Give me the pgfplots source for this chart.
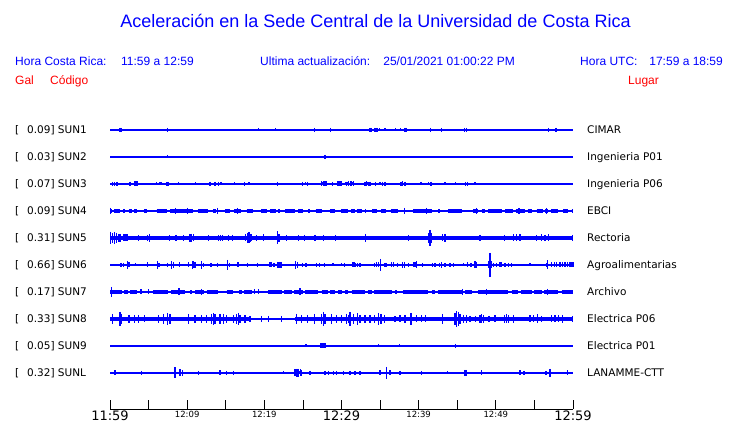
\documentclass[border=0pt]{standalone}
\usepackage{fontspec}
\setmainfont{DejaVu Sans}
\newfontfamily\lib{Liberation Sans}
\usepackage{pgfplots}
\usepackage{pgfplotstable}
\pgfplotsset{compat=1.18}
\definecolor{tb}{RGB}{0,0,255}
\definecolor{tr}{RGB}{255,0,0}

% spikes: t = minutes after 11:59, a = half amplitude (px)
\pgfplotstableread{
t a
1.30 2
1.39 2
1.48 2
7.43 2
19.22 1.5
21.47 1.5
26.47 2
28.60 2
33.69 2
33.91 2
34.25 2
34.47 2
34.69 2
34.95 1.5
35.64 1.5
36.94 1.5
37.59 1.5
38.14 2
38.25 2
38.36 2
41.56 2
42.98 2
45.91 2
46.22 2
56.80 2
57.80 2
}\sunA
\pgfplotstableread{
t a
7.43 1.5
27.86 2
}\sunB
\pgfplotstableread{
t a
0.30 2
0.56 2
0.91 2
2.59 2
3.24 2.5
3.41 2.5
3.59 2.5
6.05 1.5
6.39 1.5
6.61 1.5
7.39 2
7.56 2
8.85 1.5
11.10 1.5
12.96 2
13.61 2
14.03 2
14.39 1.5
16.11 1.5
17.41 2
18.01 1.5
21.73 2
24.92 2
25.36 1.5
25.62 2
27.43 2.5
27.65 2.5
27.86 2.5
28.08 2.5
28.86 2
29.46 2.5
29.68 2.5
29.94 2.5
30.67 2
30.88 2.5
31.23 2.5
31.53 2.5
33.05 2
33.26 2.5
33.47 2
33.69 2
34.43 2
34.99 1.5
35.29 2
35.64 2
37.71 2
37.88 2.5
38.23 2
40.30 1.5
41.25 1.5
41.60 2
43.41 1.5
44.80 1.5
46.09 2
46.35 2
47.30 1.5
}\sunC
\pgfplotstableread{
t a
0.10 3
8.50 3
10.10 3
13.90 3
16.50 3
38.14 3
41.00 3
47.50 3
53.00 3
56.60 3
}\sunD
\pgfplotstableread{
t a
0.05 6
0.30 5
0.55 6
0.80 5
1.05 4
1.30 4
1.75 3.5
1.95 3.5
2.15 3.5
2.30 3.5
3.67 3
4.88 3
5.10 4
7.69 3
8.55 3
9.50 3
10.28 4
10.50 4
10.80 3.5
12.74 3
14.04 3
14.34 3
14.56 3
15.33 3
15.85 3
17.58 3.5
17.84 5
18.01 5.5
18.14 4
18.36 3.5
19.01 3
19.92 3.5
21.73 6.5
21.90 4
22.90 3
24.41 3
25.18 3
26.57 3
27.65 3
29.24 3
33.13 4
38.66 3
41.34 5
41.47 8
41.60 5
43.07 3.5
43.41 4
47.95 3
51.10 3
52.27 3.5
52.70 3.5
53.13 3.5
55.30 3
55.94 3.5
56.37 3
56.80 3.5
59.95 3
}\sunE
\pgfplotstableread{
t a
1.43 2
1.73 2
2.29 4
2.46 2.5
3.33 1.5
4.88 2.5
6.18 4
6.35 2
7.43 2
8.00 4
8.21 3
8.99 2.5
10.15 2.5
10.67 4
10.84 3.5
11.02 3
11.88 4
12.09 2
13.09 2
13.91 2
15.21 5
15.46 2
16.50 2.5
16.63 2.5
17.80 2
19.09 2
20.73 2.5
20.95 2.5
21.25 2
21.69 3
21.90 3
22.12 3
22.25 3
24.06 4
24.28 3
24.92 2
25.28 2
25.49 2
26.74 2
27.12 2
27.77 2
28.90 1.5
30.02 1.5
30.37 2
31.40 2.5
31.62 2.5
31.75 2
32.10 2
32.40 2
34.25 2
34.56 2.5
34.77 2.5
35.03 6
35.64 2
35.86 2
36.50 2.5
36.71 2.5
37.28 2
37.88 3
38.14 3
38.66 2
39.31 2.5
39.53 2.5
39.74 3.5
40.47 2
41.77 2
42.12 2
42.68 2
42.98 3
43.41 2
44.06 2
44.49 2
45.78 1.5
46.35 2.5
46.78 2
47.30 3.5
47.52 3
49.11 3.5
49.24 12
49.37 3.5
49.67 2
50.11 2
50.54 2.5
50.76 2.5
51.19 2
51.61 2
52.06 2
54.43 1.5
56.59 2
56.72 4.5
57.24 2.5
57.58 2.5
57.89 2.5
58.32 2.5
58.61 2.5
58.96 2.5
59.31 2.5
59.61 2.5
59.83 2.5
60.00 2.5
}\sunF
\pgfplotstableread{
t a
0.22 5
4.02 2.5
4.97 2.5
8.94 3.5
11.88 3
18.70 2.5
19.22 2.5
24.62 3.5
45.66 3
48.81 3
56.72 3
}\sunG
\pgfplotstableread{
t a
0.30 5
1.30 7
1.51 5
2.46 4
3.15 4
3.67 4
4.45 3.5
6.26 4
6.91 5
7.47 6
7.78 5
10.15 5
11.02 4
11.88 4
12.53 4
13.18 5
13.39 6
13.61 5
14.26 5
14.69 5
15.12 4
15.98 4
16.42 5
16.63 6
16.85 4
17.50 4
18.14 3
19.65 3
20.52 3
22.25 3
24.19 5
24.84 4
25.62 4
26.47 5
27.43 5
27.65 7
27.86 5
28.73 5
29.38 4
30.02 4
30.67 5
31.10 7
30.88 4
31.53 5
32.10 6
32.40 4
33.05 4
33.69 4
34.25 4
34.77 6
35.12 5
35.55 4
36.93 3
37.58 3.5
38.23 4
39.01 6
39.74 3.5
40.39 3.5
40.91 3.5
43.07 5
44.71 6
44.93 8
45.14 7
45.36 5
45.78 4
46.22 4
46.65 3
47.39 3
47.95 4
48.17 4.5
48.38 4
49.11 3
49.89 3.5
51.10 4
51.40 4.5
51.61 4
52.27 4
54.43 3.5
54.86 3.5
55.42 4.5
55.94 3
57.24 3.5
57.67 3.5
58.10 3.5
58.61 4
59.90 3
}\sunH
\pgfplotstableread{
t a
25.40 1.5
27.34 2.5
27.47 2.5
27.60 2.5
27.73 2.5
27.86 2.5
34.77 1.5
37.54 1.5
44.80 2
}\sunI
\pgfplotstableread{
t a
0.65 2.5
0.75 2.5
4.10 2
8.42 5.5
9.07 3.5
9.42 3
11.45 2
14.26 2.5
15.12 2
15.98 2
22.46 1.5
23.97 3.5
24.14 4
24.30 4
24.47 4
24.64 3.5
24.84 3
25.92 2
27.86 2
28.29 2
28.94 2
29.37 2
30.23 2
31.10 2
31.75 2
32.40 2
34.99 2.5
35.86 6
36.28 2.5
37.58 2
40.39 2
43.71 1.5
45.91 3
46.07 3
46.22 3
48.17 2.5
53.13 2.5
53.65 2
56.50 2
57.02 4
59.26 2.5
}\sunL

\pgfplotsset{
  spk/.style={scatter, only marks, mark=|,
    point meta=\thisrow{a}, point meta min=0, point meta max=20,
    scatter/use mapped color={draw=tb, fill=tb},
    mark options={line width=1.1pt},
    visualization depends on={\thisrow{a} \as \amp},
    scatter/@pre marker code/.append style={/tikz/mark size=\amp pt}},
  base/.style={tb, line width=1.2pt, no marks},
}

\begin{document}
\begin{tikzpicture}
\useasboundingbox (0,0) rectangle (740pt,423pt);
\begin{axis}[
  at={(110pt,14pt)}, anchor=south west,
  scale only axis, width=463pt, height=306pt,
  xmin=0, xmax=60, ymin=-0.33333, ymax=11,
  clip=false,
  axis x line=bottom, axis y line=none,
  x axis line style={-, line width=0.8pt, black},
  xtick={0,5,...,60},
  xticklabels={{\fontsize{13}{13}\selectfont 11:59},{},{\fontsize{8.5}{9}\selectfont 12:09},{},{\fontsize{8.5}{9}\selectfont 12:19},{},{\fontsize{13}{13}\selectfont 12:29},{},{\fontsize{8.5}{9}\selectfont 12:39},{},{\fontsize{8.5}{9}\selectfont 12:49},{},{\fontsize{13}{13}\selectfont 12:59}},
  tick align=inside, major tick length=9pt,
  tick style={black, line width=0.8pt},
  xticklabel style={anchor=north, inner sep=0pt, yshift=-1.5pt},
  ytick=\empty,
  unbounded coords=jump,
]
% baselines
\addplot[base] coordinates {(0,10)(60,10)};
\addplot[base] coordinates {(0,9)(60,9)};
\addplot[base] coordinates {(0,8)(60,8)};
\addplot[base] coordinates {(0,7)(60,7)};
\addplot[base] coordinates {(0,6)(60,6)};
\addplot[base] coordinates {(0,5)(60,5)};
\addplot[base] coordinates {(0,4)(60,4)};
\addplot[base] coordinates {(0,3)(60,3)};
\addplot[base] coordinates {(0,2)(60,2)};
\addplot[base] coordinates {(0,1)(60,1)};
% bands
\addplot[tb, line width=3pt, no marks] coordinates {(1.30,10)(1.48,10) (nan,nan) (38.14,10)(38.36,10)};
\addplot[tb, line width=3pt, no marks] coordinates {(3.24,8)(3.59,8) (nan,nan) (27.43,8)(28.08,8) (nan,nan) (29.46,8)(29.94,8) (nan,nan) (30.45,8)(30.88,8) (nan,nan) (31.23,8)(31.60,8) (nan,nan) (33.05,8)(33.69,8) (nan,nan) (37.71,8)(37.88,8)};
\addplot[tb, line width=3.2pt, no marks] coordinates {
(0,7)(0.30,7) (nan,nan) (0.56,7)(1.30,7) (nan,nan) (1.73,7)(1.94,7) (nan,nan) (2.46,7)(2.81,7) (nan,nan)
(3.15,7)(3.46,7) (nan,nan) (4.45,7)(4.75,7) (nan,nan) (6.05,7)(7.34,7) (nan,nan) (7.78,7)(10.80,7) (nan,nan)
(11.45,7)(12.74,7) (nan,nan) (13.39,7)(13.69,7) (nan,nan) (14.90,7)(15.55,7) (nan,nan) (16.11,7)(16.98,7) (nan,nan)
(17.71,7)(18.57,7) (nan,nan) (19.57,7)(20.30,7) (nan,nan) (20.73,7)(21.47,7) (nan,nan) (21.73,7)(22.03,7) (nan,nan)
(22.68,7)(23.97,7) (nan,nan) (24.41,7)(25.05,7) (nan,nan) (25.70,7)(25.92,7) (nan,nan) (26.66,7)(27.43,7) (nan,nan)
(28.51,7)(29.16,7) (nan,nan) (29.94,7)(30.88,7) (nan,nan) (31.23,7)(31.75,7) (nan,nan) (31.97,7)(32.62,7) (nan,nan)
(33.05,7)(33.13,7) (nan,nan) (33.99,7)(34.56,7) (nan,nan) (35.12,7)(35.73,7) (nan,nan) (36.41,7)(37.36,7) (nan,nan)
(39.31,7)(41.77,7) (nan,nan) (42.55,7)(42.76,7) (nan,nan) (43.84,7)(45.57,7) (nan,nan) (47.08,7)(47.73,7) (nan,nan)
(48.17,7)(48.59,7) (nan,nan) (49.02,7)(50.76,7) (nan,nan) (51.19,7)(52.27,7) (nan,nan) (52.57,7)(53.78,7) (nan,nan)
(54.13,7)(54.65,7) (nan,nan) (55.30,7)(56.15,7) (nan,nan) (56.37,7)(56.80,7) (nan,nan) (57.15,7)(58.10,7) (nan,nan)
(58.74,7)(59.39,7) (nan,nan) (59.83,7)(60,7)};
\addplot[tb, line width=4pt, no marks] coordinates {(0,6)(60,6)};
\addplot[tb, line width=3.2pt, no marks] coordinates {
(0,4)(1.51,4) (nan,nan) (1.86,4)(2.29,4) (nan,nan) (2.59,4)(3.46,4) (nan,nan) (5.62,4)(7.56,4) (nan,nan)
(7.91,4)(9.72,4) (nan,nan) (10.37,4)(10.67,4) (nan,nan) (11.02,4)(12.22,4) (nan,nan) (12.53,4)(14.04,4) (nan,nan)
(15.12,4)(15.98,4) (nan,nan) (16.72,4)(17.15,4) (nan,nan) (17.41,4)(18.44,4) (nan,nan) (20.52,4)(22.25,4) (nan,nan)
(22.59,4)(23.55,4) (nan,nan) (23.89,4)(25.05,4) (nan,nan) (25.27,4)(27.00,4) (nan,nan) (27.43,4)(28.21,4) (nan,nan)
(28.51,4)(29.16,4) (nan,nan) (29.59,4)(30.11,4) (nan,nan) (30.45,4)(30.88,4) (nan,nan) (31.32,4)(33.05,4) (nan,nan)
(33.39,4)(33.91,4) (nan,nan) (34.25,4)(36.50,4) (nan,nan) (36.93,4)(37.15,4) (nan,nan) (38.01,4)(41.25,4) (nan,nan)
(41.77,4)(42.12,4) (nan,nan) (42.47,4)(45.78,4) (nan,nan) (46.00,4)(46.87,4) (nan,nan) (47.73,4)(51.61,4) (nan,nan)
(52.06,4)(52.91,4) (nan,nan) (53.26,4)(54.65,4) (nan,nan) (54.99,4)(55.94,4) (nan,nan) (56.28,4)(58.10,4) (nan,nan)
(58.54,4)(60,4)};
\addplot[tb, line width=4.5pt, no marks] coordinates {(0,3)(18.1,3) (nan,nan) (24.0,3)(60,3)};
\addplot[tb, line width=2.2pt, no marks] coordinates {(18.1,3)(24.0,3)};
\addplot[tb, line width=3pt, no marks] coordinates {(27.34,2)(27.86,2)};
\addplot[tb, line width=3pt, no marks] coordinates {(23.97,1)(24.84,1) (nan,nan) (45.91,1)(46.22,1)};
% spikes
\addplot[spk] table[x=t, y expr=10] {\sunA};
\addplot[spk] table[x=t, y expr=9] {\sunB};
\addplot[spk] table[x=t, y expr=8] {\sunC};
\addplot[spk] table[x=t, y expr=7] {\sunD};
\addplot[spk] table[x=t, y expr=6] {\sunE};
\addplot[spk] table[x=t, y expr=5] {\sunF};
\addplot[spk] table[x=t, y expr=4] {\sunG};
\addplot[spk] table[x=t, y expr=3] {\sunH};
\addplot[spk] table[x=t, y expr=2] {\sunI};
\addplot[spk] table[x=t, y expr=1] {\sunL};
\end{axis}
% header
\node[anchor=base, text=tb, font=\lib\fontsize{18}{20}\selectfont, inner sep=0pt] at (375.5pt,395pt) {Aceleración en la Sede Central de la Universidad de Costa Rica};
\begin{scope}[every node/.style={inner sep=0pt, font=\lib\fontsize{12}{14}\selectfont}]
\node[anchor=base west, text=tb] at (15pt,357.5pt) {Hora Costa Rica:};
\node[anchor=base west, text=tb] at (121pt,357.5pt) {11:59 a 12:59};
\node[anchor=base west, text=tb] at (260pt,357.5pt) {Ultima actualización:};
\node[anchor=base east, text=tb] at (515pt,357.5pt) {25/01/2021 01:00:22 PM};
\node[anchor=base west, text=tb] at (580pt,357.5pt) {Hora UTC:};
\node[anchor=base east, text=tb] at (723pt,357.5pt) {17:59 a 18:59};
\node[anchor=base west, text=tr] at (15pt,338pt) {Gal};
\node[anchor=base west, text=tr] at (50pt,338pt) {Código};
\node[anchor=base west, text=tr] at (628pt,338pt) {Lugar};
\end{scope}
% row labels
\begin{scope}[every node/.style={inner sep=0pt, anchor=base west, font=\fontsize{10.5}{12}\selectfont}]
\foreach \yy/\val/\code/\place in {289.2/0.09/SUN1/CIMAR, 262.2/0.03/SUN2/Ingenieria P01, 235.2/0.07/SUN3/Ingenieria P06, 208.2/0.09/SUN4/EBCI, 181.2/0.31/SUN5/Rectoria, 154.2/0.66/SUN6/Agroalimentarias, 127.2/0.17/SUN7/Archivo, 100.2/0.33/SUN8/Electrica P06, 73.2/0.05/SUN9/Electrica P01, 46.2/0.32/SUNL/LANAMME-CTT}{
  \node at (15pt,\yy pt) {[};
  \node at (27pt,\yy pt) {\val] \code};
  \node at (587pt,\yy pt) {\place};
}
\end{scope}
\end{tikzpicture}
\end{document}
